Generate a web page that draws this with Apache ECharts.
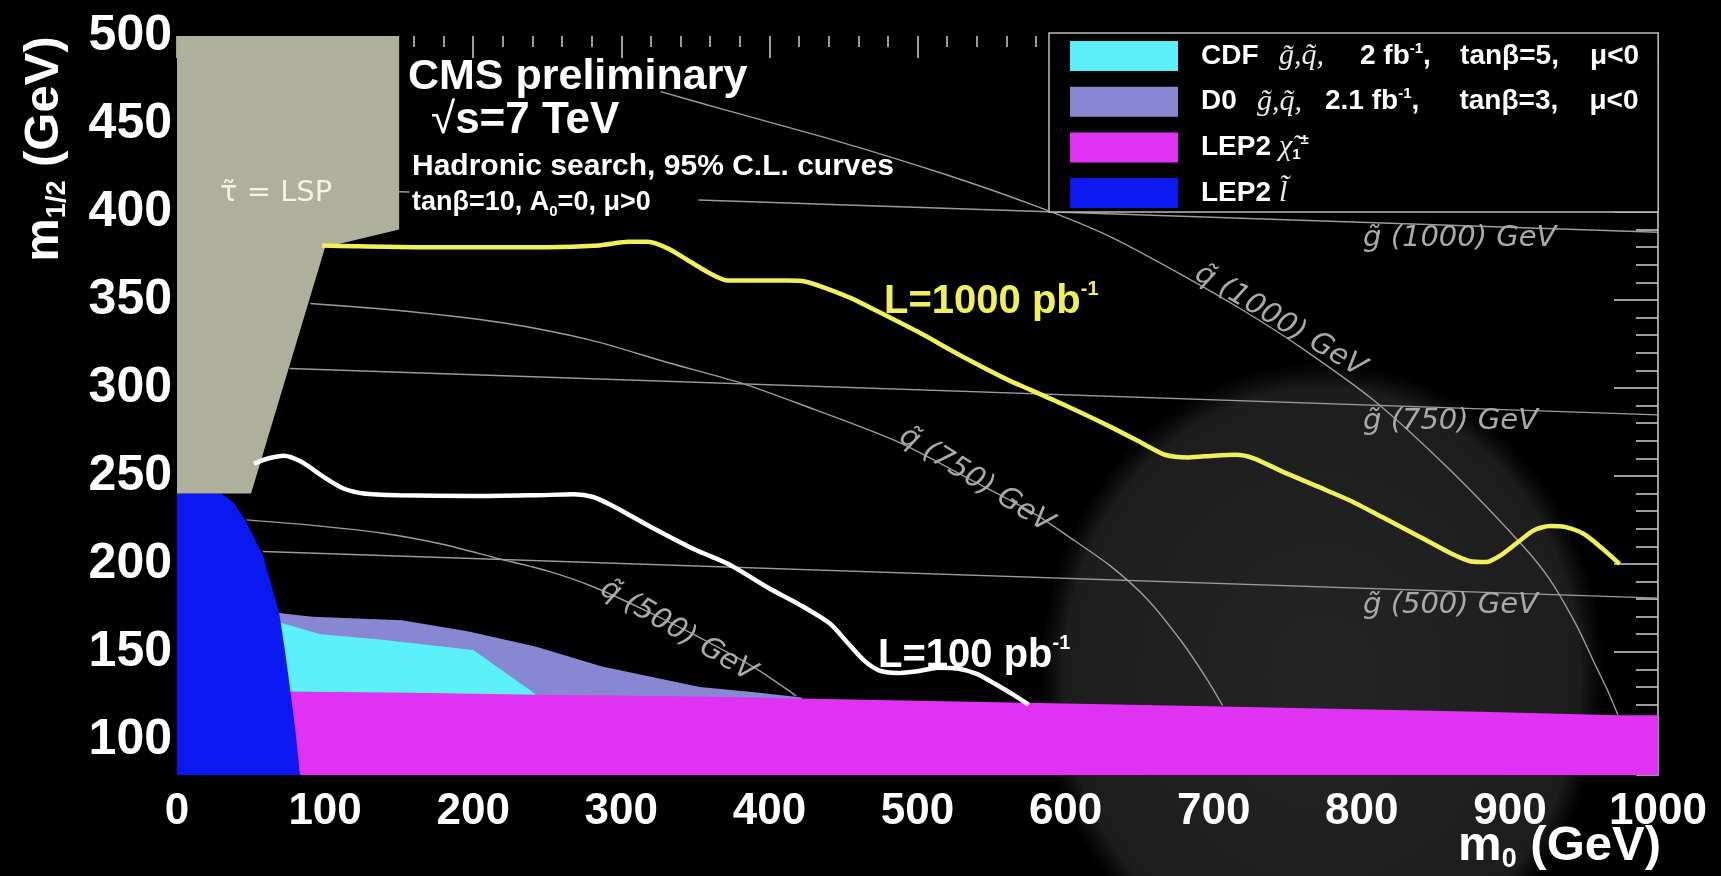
<!DOCTYPE html>
<html>
<head>
<meta charset="utf-8">
<title>CMS hadronic search reach, m0 – m1/2 plane</title>
<script src="https://cdn.jsdelivr.net/npm/echarts@6/dist/echarts.min.js"></script>
<style>
  html, body { margin: 0; padding: 0; background: #000; }
  #chart { width: 1721px; height: 876px; }
</style>
</head>
<body>
<div id="chart"></div>
<script>
// ---- axes ----
const m0Range = [0, 1000];
const m12Range = [80, 500];
const m12Labels = [100, 150, 200, 250, 300, 350, 400, 450, 500];

// ---- excluded regions, outlines as [m0, m1/2] in GeV ----
const stauLspRegion = [[0, 500], [150, 500], [150, 390], [100, 380], [50, 240], [0, 240]];
const lep2SleptonRegion = [[0, 240], [30, 240], [38, 235], [46, 225], [52, 215], [58, 205], [63, 190],
  [69, 172], [73, 150], [76.5, 128], [80, 105], [83, 80], [0, 80]];
const lep2CharginoRegion = [[70, 127.5], [158, 126.7], [242, 125.6], [353, 124.6], [420, 123.5],
  [573, 121], [705, 119], [880, 116], [973, 114], [1000, 114], [1000, 80], [70, 80]];
const d0Region = [[60, 172.5], [69, 172], [91.5, 170], [152, 168], [197, 161.5], [242, 153],
  [287, 141.7], [353, 130], [390, 127], [422, 124], [422, 100], [60, 100]];
const cdfRegion = [[60, 167], [70, 166.5], [97, 160], [137, 157], [200, 151], [242, 126], [242, 110], [60, 110]];

// ---- 95% C.L. reach curves ----
const lumi1000Limit = [[98, 381], [120, 380.5], [160, 380], [200, 380], [250, 380], [285, 381], [305, 383],
  [318, 383], [332, 379], [346, 372], [360, 365], [372, 361], [392, 361], [412, 361], [424, 360.5],
  [437, 357], [455, 351], [472, 344], [500, 332], [530, 318], [560, 305], [576, 299], [600, 290],
  [630, 278], [653, 268], [667, 262], [683, 260.5], [700, 261.5], [715, 262], [727, 260], [745, 253],
  [770, 244], [792, 236], [815, 226], [840, 215], [860, 206], [873, 201.5], [884, 201], [894, 205],
  [905, 212], [916, 219], [927, 221.5], [937, 221], [950, 217], [962, 209], [974, 200]];
const lumi100Limit = [[52, 257], [62, 260], [72, 261.5], [84, 258], [98, 250], [112, 243], [126, 240],
  [150, 239], [200, 238.5], [242, 239], [268, 239.5], [281, 238], [294, 233], [320, 221], [350, 208],
  [372, 200], [400, 186], [420, 177], [441, 166], [454, 154], [464, 145], [474, 139.5], [486, 138],
  [500, 139], [514, 141], [527, 140.5], [540, 137.5], [552, 132], [563, 126.5], [575, 120]];

// ---- iso-mass contours ----
const gluino1000Stub = [[150, 411.5], [157, 411.3]];
const gluino1000 = [[352, 406.8], [1000, 388.5]];
const gluino750 = [[76, 311], [1000, 284.7]];
const gluino500 = [[58, 207], [1000, 180.5]];
const squark1000 = [[326.5, 468.4], [370, 458], [447, 440], [520, 421], [581, 403], [630, 386],
  [679, 364], [720, 344], [758, 323.5], [808, 293], [860, 253], [909, 210], [927, 191], [945, 165],
  [956, 145.5], [966, 128], [973, 114]];
const squark750 = [[90, 348], [150, 344], [220, 337], [280, 327], [333, 314], [380, 303], [420, 291],
  [485, 270], [540, 246], [580, 228], [602, 215.5], [630, 199], [655, 180], [679, 155], [695, 135], [706, 119.5]];
const squark500 = [[47, 225], [90, 222], [139, 217.4], [180, 211], [217, 203], [250, 196], [281, 187],
  [320, 172], [360, 155], [390, 141], [418, 125]];

const SANS = "'Liberation Sans', Arial, sans-serif";
const SERIF = "'Liberation Serif', 'Times New Roman', serif";
const LABEL_FONT = "'DejaVu Sans', sans-serif";
const TICK = { color: '#cfcfcf', width: 1.5 };

const legendLabels = {
  'CDF': '{c1|CDF}{i1|g\u0303,q\u0303,}{b|2 fb}{sup|-1}{k1|,}{t|tan\u03b2=5,}{b|\u03bc<0}',
  'D0': '{c2|D0}{i2|g\u0303,q\u0303,}{b|2.1 fb}{sup|-1}{k2|,}{t|tan\u03b2=3,}{b|\u03bc<0}',
  'LEP2 chargino': '{c1|LEP2}{i|\u03c7\u0303}{sub|1}{sup|\u00b1}',
  'LEP2 slepton': '{c1|LEP2}{i|l\u0303}'
};

function region(name, points, color, z) {
  return {
    type: 'custom', name: name, z: z, silent: true,
    coordinateSystem: 'cartesian2d',
    itemStyle: { color: color },
    data: points,
    renderItem: function (params, api) {
      if (params.dataIndex !== 0) return null;
      return {
        type: 'polygon',
        shape: { points: points.map(function (p) { return api.coord(p); }) },
        style: { fill: color }
      };
    }
  };
}

function contour(data, color, width, z) {
  return {
    type: 'line', data: data, symbol: 'none', showSymbol: false, silent: true,
    smooth: 0.25, z: z,
    lineStyle: { color: color, width: width }
  };
}

function isoLabel(text, x, y, angleDeg) {
  return {
    type: 'text', x: x, y: y, z: 20, silent: true,
    rotation: -angleDeg * Math.PI / 180,
    style: {
      text: text, fill: '#a9a9a9', fontFamily: LABEL_FONT, fontStyle: 'italic', fontSize: 29,
      align: angleDeg ? 'center' : 'left', verticalAlign: 'middle'
    }
  };
}

function boldText(text, x, y, size, color) {
  return {
    type: 'text', x: x, y: y, z: 20, silent: true,
    style: { text: text, fill: color || '#fff', fontFamily: SANS, fontWeight: 'bold', fontSize: size, verticalAlign: 'middle' }
  };
}

function lumiLabel(text, x, y, color) {
  return {
    type: 'text', x: x, y: y, z: 20, silent: true,
    style: {
      text: '{t|' + text + '}{s|-1}', verticalAlign: 'middle',
      rich: {
        t: { fill: color, fontFamily: SANS, fontWeight: 'bold', fontSize: 40, lineHeight: 46 },
        s: { fill: color, fontFamily: SANS, fontWeight: 'bold', fontSize: 20, lineHeight: 22, verticalAlign: 'top' }
      }
    }
  };
}

const titleRich = {
  m: { fill: '#fff', fontFamily: SANS, fontWeight: 'bold', fontSize: 49, lineHeight: 54 },
  s: { fill: '#fff', fontFamily: SANS, fontWeight: 'bold', fontSize: 27, lineHeight: 28, verticalAlign: 'bottom' }
};

const plotBox = { left: 177, right: 63, top: 36, bottom: 101, containLabel: false, outerBoundsMode: 'none' };

const chart = echarts.init(document.getElementById('chart'), null, { width: 1721, height: 876 });

chart.setOption({
  backgroundColor: '#000',
  animation: false,
  // grid 0: data + labels, grid 1: frame top/right with fine ticks, grid 2: long ticks on the right
  grid: [plotBox, plotBox, plotBox],
  xAxis: [
    {
      type: 'value', gridIndex: 0, position: 'bottom', min: m0Range[0], max: m0Range[1], interval: 100,
      axisLine: { show: false, onZero: false }, axisTick: { show: false }, minorTick: { show: false }, splitLine: { show: false },
      axisLabel: {
        color: '#fff', fontFamily: SANS, fontWeight: 'bold', fontSize: 44, margin: 15,
        formatter: function (v) { return String(Math.round(v)); }
      }
    },
    {
      type: 'value', gridIndex: 1, position: 'top', min: m0Range[0], max: m0Range[1], interval: 100,
      axisLine: { show: false, onZero: false }, axisLabel: { show: false }, splitLine: { show: false },
      axisTick: { show: true, inside: true, length: 22, lineStyle: TICK },
      minorTick: { show: true, splitNumber: 5, length: 11, lineStyle: TICK }
    },
    {
      type: 'value', gridIndex: 2, position: 'bottom', min: m0Range[0], max: m0Range[1], show: false,
      axisLine: { onZero: false }
    }
  ],
  yAxis: [
    {
      type: 'value', gridIndex: 0, position: 'left', min: m12Range[0], max: m12Range[1], interval: 10,
      axisLine: { show: false, onZero: false }, axisTick: { show: false }, minorTick: { show: false }, splitLine: { show: false },
      axisLabel: {
        color: '#fff', fontFamily: SANS, fontWeight: 'bold', fontSize: 50, margin: 5, padding: [8, 0, 0, 0],
        formatter: function (v) { return m12Labels.indexOf(Math.round(v)) >= 0 ? String(Math.round(v)) : ''; }
      }
    },
    {
      type: 'value', gridIndex: 1, position: 'right', min: m12Range[0], max: m12Range[1], interval: 10,
      axisLine: { show: true, onZero: false, lineStyle: TICK },
      axisLabel: { show: false }, splitLine: { show: false },
      axisTick: { show: true, inside: true, length: 22, lineStyle: TICK }
    },
    {
      type: 'value', gridIndex: 2, position: 'right', min: m12Range[0], max: m12Range[1],
      axisLine: { show: false, onZero: false }, splitLine: { show: false },
      axisLabel: { show: false, customValues: m12Labels },
      axisTick: { show: true, inside: true, length: 44, customValues: m12Labels, lineStyle: TICK }
    }
  ],
  legend: {
    orient: 'vertical', left: 1049, top: 33, padding: [8, 19, 4, 21],
    backgroundColor: '#000', borderColor: '#bdbdbd', borderWidth: 1.5, borderRadius: 0,
    itemWidth: 108, itemHeight: 30, itemGap: 15.7, icon: 'rect',
    selectedMode: false, z: 10,
    data: ['CDF', 'D0', 'LEP2 chargino', 'LEP2 slepton'],
    formatter: function (name) { return legendLabels[name]; },
    textStyle: {
      color: '#fff', padding: [0, 0, 0, 18],
      rich: {
        b: { color: '#fff', fontFamily: SANS, fontWeight: 'bold', fontSize: 28, lineHeight: 30 },
        c1: { color: '#fff', fontFamily: SANS, fontWeight: 'bold', fontSize: 28, lineHeight: 30, width: 78 },
        c2: { color: '#fff', fontFamily: SANS, fontWeight: 'bold', fontSize: 28, lineHeight: 30, width: 56 },
        k1: { color: '#fff', fontFamily: SANS, fontWeight: 'bold', fontSize: 28, lineHeight: 30, width: 37 },
        k2: { color: '#fff', fontFamily: SANS, fontWeight: 'bold', fontSize: 28, lineHeight: 30, width: 48 },
        t: { color: '#fff', fontFamily: SANS, fontWeight: 'bold', fontSize: 28, lineHeight: 30, width: 130 },
        i: { color: '#ececec', fontFamily: SERIF, fontStyle: 'italic', fontSize: 30, lineHeight: 30 },
        i1: { color: '#ececec', fontFamily: SERIF, fontStyle: 'italic', fontSize: 30, lineHeight: 30, width: 81 },
        i2: { color: '#ececec', fontFamily: SERIF, fontStyle: 'italic', fontSize: 30, lineHeight: 30, width: 68 },
        sup: { color: '#fff', fontFamily: SANS, fontWeight: 'bold', fontSize: 15, lineHeight: 16, verticalAlign: 'top' },
        sub: { color: '#fff', fontFamily: SANS, fontWeight: 'bold', fontSize: 15, lineHeight: 16, verticalAlign: 'bottom' }
      }
    }
  },
  graphic: [
    // soft grey disc behind the high-m0 corner
    {
      type: 'circle', x: 1322, y: 676, scaleX: 0.9, z: -5, silent: true,
      shape: { cx: 0, cy: 0, r: 312 },
      style: {
        fill: {
          type: 'radial', x: 0.5, y: 0.5, r: 0.5,
          colorStops: [
            { offset: 0, color: '#242424' },
            { offset: 0.92, color: '#1d1d1d' },
            { offset: 1, color: 'rgba(18,18,18,0.15)' }
          ]
        }
      }
    },
    // axis titles
    {
      type: 'text', x: 44, y: 149, rotation: Math.PI / 2, z: 20, silent: true,
      style: { text: '{m|m}{s|1/2}{m| (GeV)}', align: 'center', verticalAlign: 'middle', rich: titleRich }
    },
    {
      type: 'text', x: 1661, y: 846, z: 20, silent: true,
      style: { text: '{m|m}{s|0}{m| (GeV)}', align: 'right', verticalAlign: 'middle', rich: titleRich }
    },
    boldText('CMS preliminary', 408, 77, 43),
    {
      type: 'text', x: 431, y: 121, z: 20, silent: true,
      style: {
        text: '{r|\u221a}{t|s=7 TeV}', verticalAlign: 'middle',
        rich: {
          r: { fill: '#fff', fontFamily: SANS, fontSize: 44 },
          t: { fill: '#fff', fontFamily: SANS, fontWeight: 'bold', fontSize: 44 }
        }
      }
    },
    boldText('Hadronic search, 95% C.L. curves', 412, 167, 30),
    {
      type: 'text', x: 412, y: 203, z: 20, silent: true,
      style: {
        text: '{t|tan\u03b2=10, A}{s|0}{t|=0, \u03bc>0}', verticalAlign: 'middle',
        rich: {
          t: { fill: '#fff', fontFamily: SANS, fontWeight: 'bold', fontSize: 27, lineHeight: 32 },
          s: { fill: '#fff', fontFamily: SANS, fontWeight: 'bold', fontSize: 15, lineHeight: 16, verticalAlign: 'bottom' }
        }
      }
    },
    {
      type: 'text', x: 220, y: 193, z: 20, silent: true,
      style: { text: '\u03c4\u0303 = LSP', fill: '#f2f2e6', fontFamily: LABEL_FONT, fontSize: 29, verticalAlign: 'middle' }
    },
    lumiLabel('L=1000 pb', 884, 302, '#f0f05a'),
    lumiLabel('L=100 pb', 878, 656, '#ffffff'),
    isoLabel('g\u0303 (1000) GeV', 1363, 238, 0),
    isoLabel('g\u0303 (750) GeV', 1363, 421, 0),
    isoLabel('g\u0303 (500) GeV', 1363, 605, 0),
    isoLabel('q\u0303 (1000) GeV', 1280, 321, 31),
    isoLabel('q\u0303 (750) GeV', 976, 480, 32),
    isoLabel('q\u0303 (500) GeV', 678, 631, 30.5)
  ],
  series: [
    region('D0', d0Region, '#8787d2', 1),
    region('CDF', cdfRegion, '#5cf0fa', 2),
    region('LEP2 chargino', lep2CharginoRegion, '#e032f2', 3),
    region('LEP2 slepton', lep2SleptonRegion, '#0c18f0', 4),
    region('stau LSP', stauLspRegion, '#aeb09c', 5),
    contour(gluino1000Stub, '#9c9c9c', 1.4, 6),
    contour(gluino1000, '#9c9c9c', 1.4, 6),
    contour(gluino750, '#9c9c9c', 1.4, 6),
    contour(gluino500, '#9c9c9c', 1.4, 6),
    contour(squark1000, '#9c9c9c', 1.4, 6),
    contour(squark750, '#9c9c9c', 1.4, 6),
    contour(squark500, '#9c9c9c', 1.4, 6),
    contour(lumi100Limit, '#ffffff', 4.5, 7),
    contour(lumi1000Limit, '#f0f05a', 4.5, 7)
  ]
});
</script>
</body>
</html>
